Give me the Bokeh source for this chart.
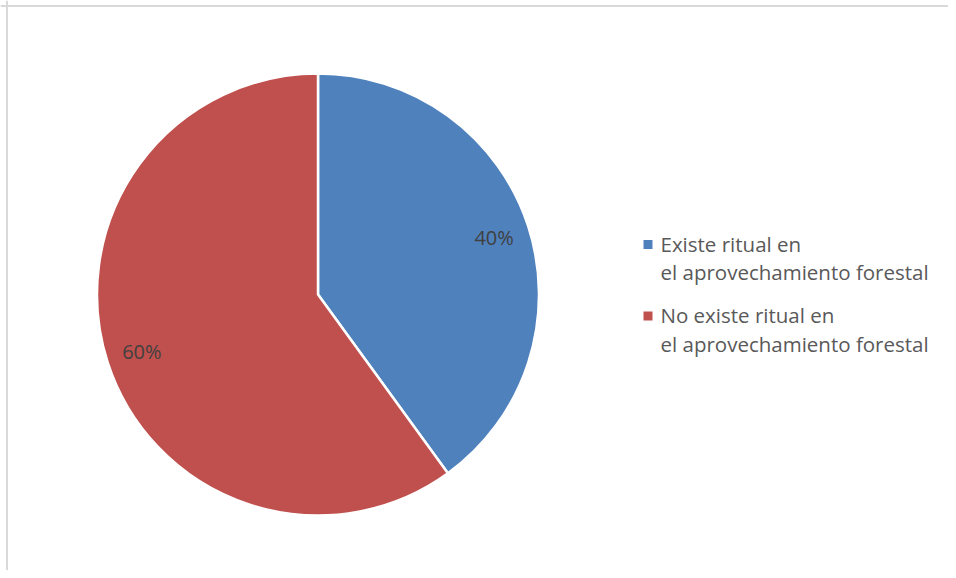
import math
from bokeh.plotting import figure
from bokeh.models import Range1d, Span, ColumnDataSource
from bokeh.core.properties import value
from bokeh.embed import file_html
from bokeh.resources import INLINE

# ---- data ----
categories = ["Existe ritual en\nel aprovechamiento forestal",
              "No existe ritual en\nel aprovechamiento forestal"]
shares = [40, 60]
label_texts = ["40%", "60%"]
colors = ["#4F81BD", "#C0504D"]

W, H = 948, 570
FONT = "Open Sans"

p = figure(width=W, height=H, output_backend="svg", toolbar_location=None,
           x_range=Range1d(0, W), y_range=Range1d(0, H),
           x_axis_location=None, y_axis_location=None,
           min_border=0, outline_line_color=None,
           background_fill_color="white", border_fill_color="white")
p.grid.visible = False

# chart-area border (top and left visible)
p.add_layout(Span(location=6.5, dimension="height", line_color="#d9d9d9", line_width=2))
p.add_layout(Span(location=H - 5.5, dimension="width", line_color="#d9d9d9", line_width=2))

# ---- pie ----
cx, cy, R = 317.5, 276.0, 221.0
total = float(sum(shares))
starts, ends, mids = [], [], []
acc = 0.0
for s in shares:
    a0 = math.pi / 2 - acc / total * 2 * math.pi
    acc += s
    a1 = math.pi / 2 - acc / total * 2 * math.pi
    starts.append(a0)
    ends.append(a1)
    mids.append((a0 + a1) / 2)

src = ColumnDataSource(dict(x=[cx] * len(shares), y=[cy] * len(shares),
                            start=starts, end=ends, color=colors))
p.wedge(x="x", y="y", radius=R, radius_units="screen",
        start_angle="start", end_angle="end", direction="clock",
        fill_color="color", line_color="white", line_width=2.5, source=src)

frac = 0.838
lx = [cx + frac * R * math.cos(m) for m in mids]
ly = [cy + frac * R * math.sin(m) for m in mids]
p.text(x=lx, y=ly, text=label_texts, text_align="center", text_baseline="middle",
       text_font=value(FONT), text_font_size="20px", text_color="#404040")

# ---- legend (custom) ----
leg_sq_x = 647.5
leg_text_x = 660
first_base = 327
line_gap = 28.5
item_gap = 71.5
sq_x, sq_y, tx, ty, tt = [], [], [], [], []
for i, lab in enumerate(categories):
    base = first_base - i * item_gap
    sq_x.append(leg_sq_x)
    sq_y.append(base - 1)
    for j, line in enumerate(lab.split("\n")):
        tx.append(leg_text_x)
        ty.append(base - j * line_gap)
        tt.append(line)
p.scatter(x=sq_x, y=sq_y, marker="square", size=9, fill_color=colors, line_color=None)
p.text(x=tx, y=ty, text=tt, text_align="left", text_baseline="alphabetic",
       text_font=value(FONT), text_font_size="20.5px", text_color="#595959")

open("out.html", "w").write(file_html(p, INLINE))
